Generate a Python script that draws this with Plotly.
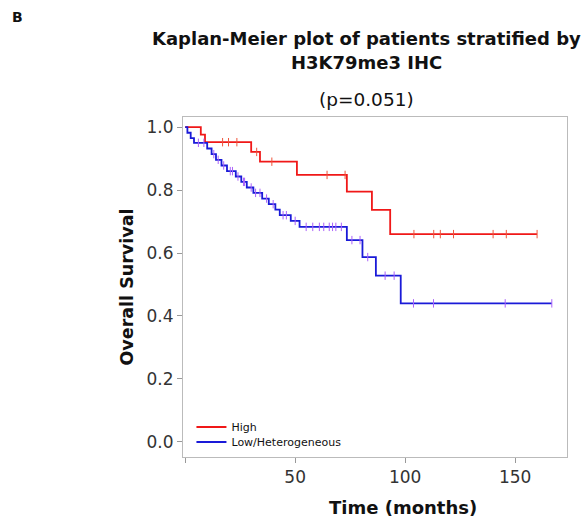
import numpy as np
import plotly.graph_objects as go

# ---- data ----
high_event_t = [0, 7.1, 9.0, 30.0, 34.0, 50.8, 73.5, 84.9, 93.2]
high_surv    = [1.0, 0.976, 0.952, 0.921, 0.890, 0.848, 0.795, 0.737, 0.660]
high_end     = 160.0
high_censor  = [17.0, 19.7, 23.5, 32.5, 39.4, 64.5, 72.7, 104.0, 113.0, 116.0, 122.0, 140.0, 146.0, 160.0]

low_event_t = [0, 1.0, 2.5, 4.0, 10.0, 12.0, 14.0, 16.5, 19.0, 23.0, 25.5, 28.0, 31.0,
               35.0, 38.0, 41.0, 43.0, 48.0, 52.0, 73.5, 80.6, 86.7, 98.0]
low_surv    = [1.0, 0.982, 0.965, 0.950, 0.932, 0.914, 0.896, 0.878, 0.860, 0.843, 0.826,
               0.808, 0.791, 0.773, 0.755, 0.738, 0.720, 0.702, 0.683, 0.641, 0.587, 0.528, 0.440]
low_end     = 166.7
low_censor  = [6.0, 8.5, 13.0, 15.0, 17.5, 20.5, 21.5, 24.0, 26.5, 27.0, 30.0, 32.0, 34.0,
               37.0, 40.0, 44.5, 46.0, 50.0, 55.0, 58.0, 61.0, 63.0, 65.5, 67.0, 68.5, 71.0,
               75.8, 79.5, 83.0, 90.9, 95.0, 103.8, 112.9, 145.5, 166.7]

x_tickvals = [0, 50, 100, 150]
x_ticktext = ["", "50", "100", "150"]
y_tickvals = [0.0, 0.2, 0.4, 0.6, 0.8, 1.0]

RED = "#f01818"
BLUE = "#1a1ad8"
FONT = "DejaVu Sans, Arial, sans-serif"


def step_xy(t, s, end):
    return list(t) + [end], list(s) + [s[-1]]


def surv_at(t_events, s_vals, times):
    idx = np.searchsorted(np.array(t_events), np.array(times), side="right") - 1
    return [s_vals[i] for i in idx]


fig = go.Figure()

for name, t, s, end, cens, col, lg in [
    ("High", high_event_t, high_surv, high_end, high_censor, RED, "legend"),
    ("Low/Heterogeneous", low_event_t, low_surv, low_end, low_censor, BLUE, "legend2"),
]:
    x, y = step_xy(t, s, end)
    fig.add_trace(go.Scatter(x=x, y=y, mode="lines", name=name, legend=lg,
                             line=dict(color=col, width=1.8, shape="hv")))
    fig.add_trace(go.Scatter(x=cens, y=surv_at(t, s, cens), mode="markers",
                             showlegend=False, hoverinfo="skip",
                             marker=dict(symbol="line-ns-open", size=6,
                                         line=dict(color=col, width=1))))

axis_font = dict(family=FONT, size=17, color="#333333")
leg_common = dict(xanchor="left", yanchor="middle", bgcolor="rgba(0,0,0,0)",
                  font=dict(family=FONT, size=11, color="#111111"), itemwidth=30)

fig.update_layout(
    width=585, height=519,
    margin=dict(l=183, r=18, t=117, b=62),
    paper_bgcolor="white", plot_bgcolor="white",
    font=dict(family=FONT, color="#111111"),
    showlegend=True,
    legend=dict(x=0.022, y=(457 - 427) / 340, **leg_common),
    legend2=dict(x=0.022, y=(457 - 442) / 340, **leg_common),
    xaxis=dict(range=[-1, 173.6], tickvals=x_tickvals, ticktext=x_ticktext,
               ticks="outside", ticklen=5, tickcolor="#999999",
               showline=True, linecolor="#bbbbbb", linewidth=1, mirror=True,
               showgrid=False, zeroline=False, tickfont=axis_font),
    yaxis=dict(range=[-0.048, 1.032], tickvals=y_tickvals, tickformat=".1f",
               ticks="outside", ticklen=5, tickcolor="#999999",
               showline=True, linecolor="#bbbbbb", linewidth=1, mirror=True,
               showgrid=False, zeroline=False, tickfont=axis_font,
               title=dict(text="<b>Overall Survival</b>", standoff=8,
                          font=dict(family=FONT, size=17.5, color="#111111"))),
    annotations=[
        dict(text="<b>B</b>", xref="paper", yref="paper", x=(17 - 183) / 384, y=1 + 100 / 340,
             xanchor="center", yanchor="middle", showarrow=False,
             font=dict(family=FONT, size=14, color="#111111")),
        dict(text="<b>Kaplan-Meier plot of patients stratified by</b>",
             xref="paper", yref="paper", x=(366 - 183) / 384, y=1.0, yshift=79,
             xanchor="center", yanchor="middle", showarrow=False,
             font=dict(family=FONT, size=18, color="#111111")),
        dict(text="<b>H3K79me3 IHC</b>",
             xref="paper", yref="paper", x=(366 - 183) / 384, y=1.0, yshift=55,
             xanchor="center", yanchor="middle", showarrow=False,
             font=dict(family=FONT, size=18, color="#111111")),
        dict(text="(p=0.051)",
             xref="paper", yref="paper", x=(366 - 183) / 384, y=1.0, yshift=18,
             xanchor="center", yanchor="middle", showarrow=False,
             font=dict(family=FONT, size=18.5, color="#111111")),
        dict(text="<b>Time (months)</b>",
             xref="paper", yref="paper", x=(403 - 183) / 384, y=0.0, yshift=-50,
             xanchor="center", yanchor="middle", showarrow=False,
             font=dict(family=FONT, size=18, color="#111111")),
    ],
)

fig.write_html("out.html")
